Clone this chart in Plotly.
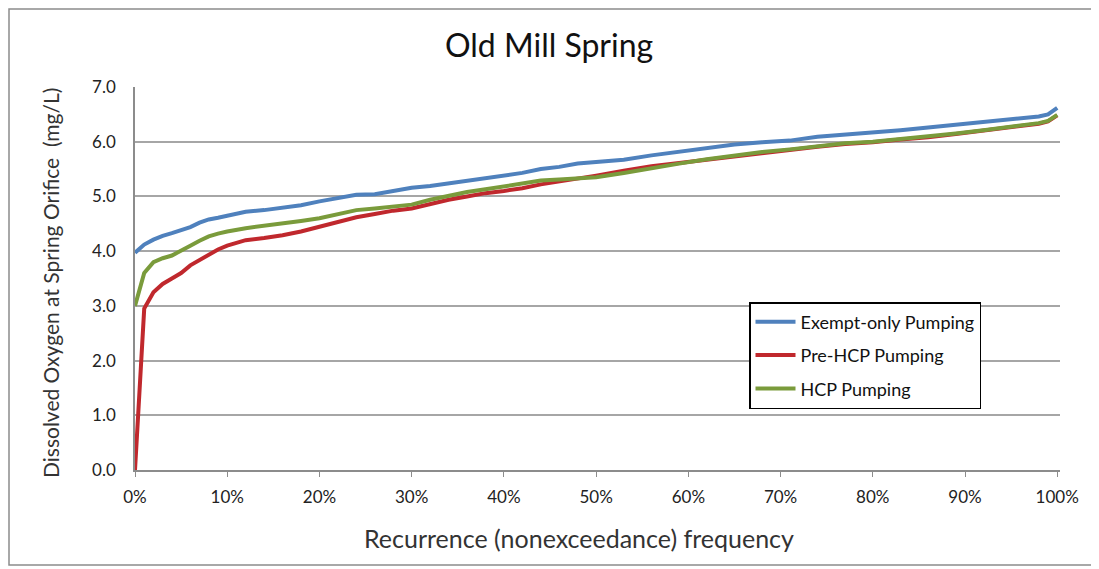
import plotly.graph_objects as go

# Recurrence (nonexceedance) frequency, in %
freq = [0, 1, 2, 3, 4, 5, 6, 7, 8, 9, 10, 12, 14, 16, 18, 20, 22, 24, 26, 28, 30,
        32, 34, 36, 38, 40, 42, 44, 46, 48, 50, 53, 56, 59, 62, 65, 68, 71, 74, 77,
        80, 83, 86, 89, 92, 95, 98, 99, 100]

exempt_only = [3.97, 4.12, 4.21, 4.28, 4.33, 4.38, 4.44, 4.52, 4.58, 4.61, 4.65, 4.72,
               4.75, 4.79, 4.84, 4.91, 4.97, 5.03, 5.04, 5.10, 5.16, 5.19, 5.24, 5.29,
               5.33, 5.38, 5.43, 5.50, 5.54, 5.60, 5.63, 5.67, 5.75, 5.82, 5.88, 5.95,
               5.99, 6.02, 6.09, 6.13, 6.16, 6.21, 6.26, 6.31, 6.35, 6.40, 6.46, 6.50,
               6.62]

pre_hcp = [0.00, 2.95, 3.25, 3.40, 3.50, 3.60, 3.74, 3.84, 3.94, 4.03, 4.10, 4.20,
           4.24, 4.29, 4.36, 4.45, 4.53, 4.62, 4.68, 4.74, 4.78, 4.86, 4.94, 5.00,
           5.06, 5.10, 5.15, 5.22, 5.27, 5.32, 5.38, 5.47, 5.55, 5.61, 5.67, 5.74,
           5.80, 5.85, 5.91, 5.96, 5.99, 6.04, 6.08, 6.14, 6.20, 6.26, 6.33, 6.37,
           6.48]

hcp = [3.00, 3.60, 3.80, 3.87, 3.92, 4.02, 4.10, 4.19, 4.27, 4.32, 4.36, 4.42,
       4.46, 4.51, 4.55, 4.60, 4.68, 4.75, 4.78, 4.82, 4.85, 4.94, 5.01, 5.08,
       5.13, 5.18, 5.24, 5.29, 5.31, 5.33, 5.35, 5.43, 5.52, 5.60, 5.68, 5.75,
       5.81, 5.86, 5.92, 5.97, 6.00, 6.05, 6.09, 6.15, 6.21, 6.27, 6.34, 6.38,
       6.49]

x_ticks = [0, 10, 20, 30, 40, 50, 60, 70, 80, 90, 100]
x_tick_labels = ["0%", "10%", "20%", "30%", "40%", "50%", "60%", "70%", "80%", "90%", "100%"]
y_ticks = [0, 1, 2, 3, 4, 5, 6, 7]
y_tick_labels = ["0.0", "1.0", "2.0", "3.0", "4.0", "5.0", "6.0", "7.0"]

FONT = "Lato"
OFF = 8  # page body margin
W, H = 1099 - OFF, 569 - OFF
# plot area in page pixels
L, R, T, B = 135, 1060, 87, 470


def px(xp):
    return (xp - L) / (R - L)


def py(yp):
    return (B - yp) / (B - T)


fig = go.Figure()
series = [
    ("Exempt-only Pumping", exempt_only, "#4F81BD"),
    ("Pre-HCP Pumping", pre_hcp, "#C0282D"),
    ("HCP Pumping", hcp, "#7A9B3B"),
]
for name, vals, col in series:
    fig.add_trace(go.Scatter(
        x=freq, y=vals, mode="lines", name=name, legendgroup=name,
        line=dict(color=col, width=4), hoverinfo="skip",
    ))

fig.update_layout(
    width=W, height=H,
    margin=dict(l=L - OFF, r=W - (R - OFF), t=T - OFF, b=H - (B - OFF)),
    paper_bgcolor="white", plot_bgcolor="white",
    font=dict(family=FONT, color="#222222"),
    showlegend=True,
    legend=dict(
        x=px(749), y=py(302), xanchor="left", yanchor="top",
        bordercolor="#000000", borderwidth=1.5, bgcolor="white",
        font=dict(family=FONT, size=18, color="#111111"),
        tracegroupgap=7, itemwidth=40,
    ),
    xaxis=dict(
        range=[0, 100.3], tickmode="array", tickvals=x_ticks, ticktext=x_tick_labels,
        showgrid=False, zeroline=False, showline=True, linecolor="#8C8C8C", linewidth=1.5,
        ticks="outside", ticklen=5, tickcolor="#8C8C8C", ticklabelstandoff=6,
        tickfont=dict(family=FONT, size=17, color="#222222"),
    ),
    yaxis=dict(
        range=[0, 7], tickmode="array", tickvals=y_ticks, ticktext=y_tick_labels,
        showgrid=True, gridcolor="#A6A6A6", gridwidth=1.5,
        zeroline=False, showline=True, linecolor="#8C8C8C", linewidth=1.5,
        ticks="", ticklabelstandoff=14,
        tickfont=dict(family=FONT, size=17, color="#222222"),
    ),
    annotations=[
        dict(text="Old Mill Spring", x=px(549), y=py(44), xref="paper", yref="paper",
             showarrow=False, font=dict(family=FONT, size=32, color="#111111"),
             xanchor="center", yanchor="middle"),
        dict(text="Recurrence (nonexceedance) frequency", x=px(579), y=py(538),
             xref="paper", yref="paper", showarrow=False,
             font=dict(family=FONT, size=25, color="#333333"),
             xanchor="center", yanchor="middle"),
        dict(text="Dissolved Oxygen at Spring Orifice  (mg/L)", x=px(50), y=py(283),
             xref="paper", yref="paper", showarrow=False, textangle=-90,
             font=dict(family=FONT, size=21, color="#333333"),
             xanchor="center", yanchor="middle"),
    ],
    shapes=[
        dict(type="rect", xref="paper", yref="paper",
             x0=px(9), x1=px(1095), y0=py(565), y1=py(9),
             line=dict(color="#8C8C8C", width=1.5), fillcolor="rgba(0,0,0,0)", layer="below"),
    ],
)

fig.write_html("out.html")
